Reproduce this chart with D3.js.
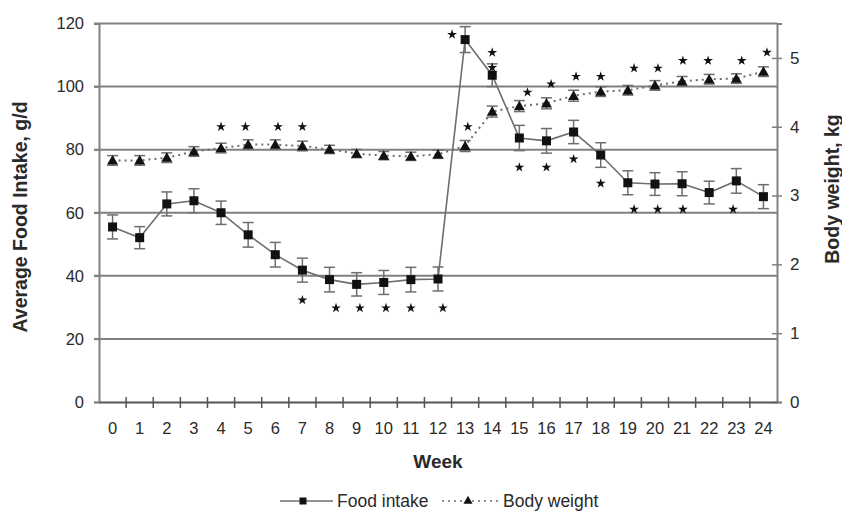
<!DOCTYPE html>
<html>
<head>
<meta charset="utf-8">
<script src="https://cdn.jsdelivr.net/npm/d3@7"></script>
<style>
  body { margin: 0; background: #fff; }
  svg { display: block; }
  text { font-family: "Liberation Sans", Arial, sans-serif; fill: #2a2a2a; }
</style>
</head>
<body>
<svg id="chart" width="842" height="517"></svg>
<script>
// weeks on the x axis
const weeks = [0,1,2,3,4,5,6,7,8,9,10,11,12,13,14,15,16,17,18,19,20,21,22,23,24];

// food intake, g/d (left axis) and its error
const foodIntake = [55.5,52.1,62.8,63.8,60.0,53.0,46.7,41.8,38.8,37.3,37.9,38.8,39.0,114.9,103.6,83.7,82.8,85.6,78.3,69.5,69.1,69.2,66.4,70.1,65.1];
const foodErr    = [3.8,3.5,3.8,3.8,3.7,3.9,3.9,3.8,3.9,3.7,3.8,3.9,3.8,4.1,3.6,4.0,3.9,3.7,3.9,3.8,3.6,3.8,3.6,3.9,3.8];

// body weight, kg (right axis) and its error
const bodyWeight = [3.51,3.51,3.55,3.64,3.69,3.74,3.74,3.72,3.67,3.61,3.58,3.57,3.60,3.72,4.22,4.30,4.34,4.45,4.51,4.53,4.60,4.66,4.69,4.70,4.80];
const bodyErr    = [0.07,0.07,0.07,0.07,0.07,0.07,0.07,0.07,0.06,0.06,0.06,0.06,0.06,0.08,0.08,0.08,0.08,0.08,0.07,0.07,0.07,0.07,0.07,0.07,0.07];

// significance stars: [week, level on its axis]
const foodStars = [[7,32.3],[8.24,29.8],[9.12,29.8],[10.08,29.8],[11,29.8],[12.18,29.8],[12.52,116.5],[14,110.8],
                   [15,74.4],[16,74.4],[17,77],[18,69.3],[19.23,61.1],[20.1,61.1],[21.03,61.1],[22.88,61.1]];
const bodyStars = [[4,4.0],[4.9,4.0],[6.1,4.0],[7,4.0],[13.1,4.0],[14,4.86],[15.3,4.5],[16.17,4.62],[17.09,4.73],
                   [18,4.73],[19.23,4.85],[20.11,4.85],[21.03,4.96],[21.96,4.96],[23.2,4.96],[24.13,5.08]];

const leftTicks = [0,20,40,60,80,100,120];
const rightTicks = [0,1,2,3,4,5];

const svg = d3.select("#chart");
const plotL = 99, plotR = 777, plotT = 23.5, plotB = 402;
const grey = "#808080";

const xBand = d3.scaleBand().domain(weeks).range([plotL, plotR]);
const x = d3.scaleLinear().domain([-0.5, 24.5]).range([plotL, plotR]);
const yL = d3.scaleLinear().domain([0, 120]).range([plotB, plotT]);
const yR = d3.scaleLinear().domain([0, 5.5]).range([plotB, plotT]);

// gridlines
svg.append("g").selectAll("line").data(leftTicks.slice(1)).join("line")
  .attr("x1", plotL - 5).attr("x2", plotR)
  .attr("y1", d => yL(d)).attr("y2", d => yL(d))
  .attr("stroke", grey).attr("stroke-width", 2);

// left axis
const gl = svg.append("g").attr("transform", `translate(${plotL},0)`)
  .call(d3.axisLeft(yL).tickValues(leftTicks).tickSize(5).tickPadding(10));
gl.select(".domain").attr("stroke", grey).attr("stroke-width", 2);
gl.selectAll(".tick line").attr("stroke", grey).attr("stroke-width", 1.5);
gl.selectAll("text").attr("font-size", 16.5).style("fill", "#2a2a2a");

// right axis
const gr = svg.append("g").attr("transform", `translate(${plotR},0)`)
  .call(d3.axisRight(yR).tickValues(rightTicks).tickFormat(d3.format("d")).tickSize(5).tickPadding(8));
gr.select(".domain").attr("stroke", grey).attr("stroke-width", 2);
gr.selectAll(".tick line").attr("x1", -5).attr("stroke", grey).attr("stroke-width", 1.5);
gr.selectAll("text").attr("font-size", 17).style("fill", "#2a2a2a");

// bottom axis: labels centred on weeks, ticks at the boundaries
const gb = svg.append("g").attr("transform", `translate(0,${plotB})`)
  .call(d3.axisBottom(xBand).tickSize(0).tickPadding(20));
gb.select(".domain").attr("stroke", "#555").attr("stroke-width", 2);
gb.selectAll("text").attr("font-size", 16.5).style("fill", "#2a2a2a");
svg.append("g").selectAll("line").data(weeks.slice(1)).join("line")
  .attr("x1", d => x(d - 0.5)).attr("x2", d => x(d - 0.5))
  .attr("y1", plotB - 5).attr("y2", plotB + 6)
  .attr("stroke", "#555").attr("stroke-width", 1.5);

// axis titles
svg.append("text").attr("x", (plotL + plotR) / 2).attr("y", 468)
  .attr("text-anchor", "middle").attr("font-size", 19).attr("font-weight", "bold").text("Week");
svg.append("text").attr("transform", "translate(27,217) rotate(-90)")
  .attr("text-anchor", "middle").attr("font-size", 19.5).attr("font-weight", "bold").text("Average Food Intake, g/d");
svg.append("text").attr("transform", "translate(839,189) rotate(-90)")
  .attr("text-anchor", "middle").attr("font-size", 19.5).attr("font-weight", "bold").text("Body weight, kg");

const food = weeks.map((w, i) => ({ w, v: foodIntake[i], e: foodErr[i] }));
const body = weeks.map((w, i) => ({ w, v: bodyWeight[i], e: bodyErr[i] }));

// lines
svg.append("path").datum(food)
  .attr("d", d3.line().x(d => x(d.w)).y(d => yL(d.v)))
  .attr("fill", "none").attr("stroke", "#6e6e6e").attr("stroke-width", 1.6);
svg.append("path").datum(body)
  .attr("d", d3.line().x(d => x(d.w)).y(d => yR(d.v)))
  .attr("fill", "none").attr("stroke", "#6e6e6e").attr("stroke-width", 2)
  .attr("stroke-dasharray", "2,4");

// error bars
function errorBars(data, y) {
  const g = svg.append("g").attr("stroke", "#6e6e6e").attr("stroke-width", 1.5);
  g.selectAll(".v").data(data).join("line")
    .attr("x1", d => x(d.w)).attr("x2", d => x(d.w))
    .attr("y1", d => y(d.v - d.e)).attr("y2", d => y(d.v + d.e));
  [-1, 1].forEach(s => {
    g.append("g").selectAll("line").data(data).join("line")
      .attr("x1", d => x(d.w) - 5.5).attr("x2", d => x(d.w) + 5.5)
      .attr("y1", d => y(d.v + s * d.e))
      .attr("y2", d => y(d.v + s * d.e));
  });
}
errorBars(food, yL);
errorBars(body, yR);

// markers
svg.append("g").selectAll("rect").data(food).join("rect")
  .attr("x", d => x(d.w) - 4.5).attr("y", d => yL(d.v) - 4.5)
  .attr("width", 9).attr("height", 9).attr("fill", "#111");
const tri = d3.symbol().type(d3.symbolTriangle).size(52);
svg.append("g").selectAll("path").data(body).join("path")
  .attr("transform", d => `translate(${x(d.w)},${yR(d.v) + 1})`)
  .attr("d", tri).attr("fill", "#111");

// significance stars
const star = d3.symbol().type(d3.symbolStar).size(30);
svg.append("g").selectAll("path").data(foodStars).join("path")
  .attr("transform", d => `translate(${x(d[0])},${yL(d[1])})`)
  .attr("d", star).attr("fill", "#111");
svg.append("g").selectAll("path").data(bodyStars).join("path")
  .attr("transform", d => `translate(${x(d[0])},${yR(d[1])})`)
  .attr("d", star).attr("fill", "#111");

// legend
const lg = svg.append("g");
lg.append("line").attr("x1", 280).attr("x2", 333).attr("y1", 501).attr("y2", 501)
  .attr("stroke", "#6e6e6e").attr("stroke-width", 1.6);
lg.append("rect").attr("x", 299.5).attr("y", 497.5).attr("width", 7).attr("height", 7).attr("fill", "#111");
lg.append("text").attr("x", 337).attr("y", 507).attr("font-size", 17.5).text("Food intake");
lg.append("line").attr("x1", 442).attr("x2", 498).attr("y1", 501).attr("y2", 501)
  .attr("stroke", "#6e6e6e").attr("stroke-width", 1.5).attr("stroke-dasharray", "2,4");
lg.append("path").attr("transform", "translate(468,501)")
  .attr("d", d3.symbol().type(d3.symbolTriangle).size(36)).attr("fill", "#111");
lg.append("text").attr("x", 503).attr("y", 507).attr("font-size", 17.5).text("Body weight");
</script>
</body>
</html>
